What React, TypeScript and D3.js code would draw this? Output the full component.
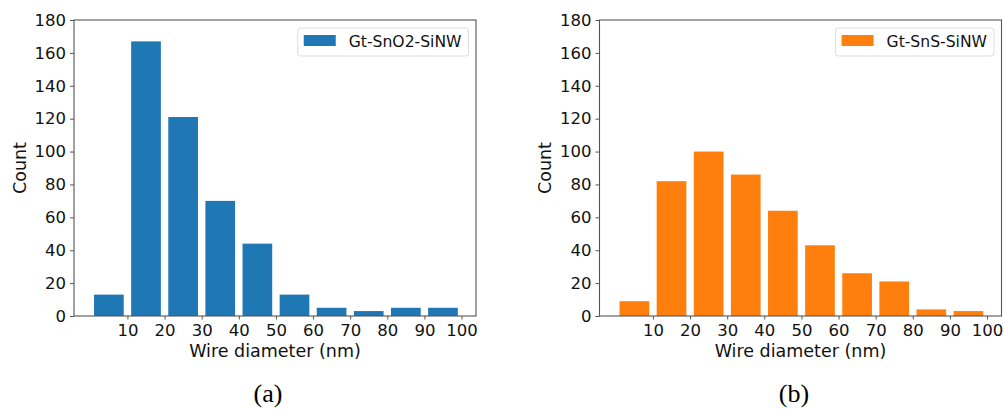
import React, { useEffect, useRef } from 'react';
import * as d3 from 'd3';

// bin centres (nm) and counts
const binCenters = [5, 15, 25, 35, 45, 55, 65, 75, 85, 95];
const snO2Counts = [13, 167, 121, 70, 44, 13, 5, 3, 5, 5];
const snSCounts = [9, 82, 100, 86, 64, 43, 26, 21, 4, 3];
const xTicks = [10, 20, 30, 40, 50, 60, 70, 80, 90, 100];
const yTicks = [0, 20, 40, 60, 80, 100, 120, 140, 160, 180];

const panels = [
  { label: 'Gt-SnO2-SiNW', values: snO2Counts, color: '#1f77b4', caption: '(a)', left: 74, captionX: 268 },
  { label: 'Gt-SnS-SiNW', values: snSCounts, color: '#ff7f0e', caption: '(b)', left: 599.5, captionX: 794 },
];

const FONT = 'DejaVu Sans, sans-serif';

function App() {
  const svgRef = useRef<SVGSVGElement>(null);

  useEffect(() => {
    const svg = d3.select(svgRef.current);
    svg.selectAll('*').remove();

    const top = 20;
    const bottom = 316;
    const width = 402;

    panels.forEach(p => {
      const x = d3.scaleLinear().domain([-4.4, 103.9]).range([p.left, p.left + width]);
      const y = d3.scaleLinear().domain([0, 180]).range([bottom, top]);
      const g = svg.append('g');

      // bars
      g.selectAll('rect.bar')
        .data(p.values)
        .enter()
        .append('rect')
        .attr('class', 'bar')
        .attr('x', (d, i) => x(binCenters[i] - 4))
        .attr('width', (d, i) => x(binCenters[i] + 4) - x(binCenters[i] - 4))
        .attr('y', d => y(d))
        .attr('height', d => y(0) - y(d))
        .attr('fill', p.color);

      // frame
      g.append('rect')
        .attr('x', p.left)
        .attr('y', top)
        .attr('width', width)
        .attr('height', bottom - top)
        .attr('fill', 'none')
        .attr('stroke', '#555')
        .attr('stroke-width', 1.1);

      // y axis
      const yAxis = g.append('g')
        .attr('transform', `translate(${p.left},0)`)
        .call(d3.axisLeft(y).tickValues(yTicks).tickSize(4).tickPadding(4));
      yAxis.select('.domain').remove();
      yAxis.selectAll('line').attr('stroke', '#555');
      yAxis.selectAll('text')
        .attr('fill', '#111')
        .style('font-family', FONT)
        .style('font-size', '16.5px');

      // x axis
      const xAxis = g.append('g')
        .attr('transform', `translate(0,${bottom})`)
        .call(d3.axisBottom(x).tickValues(xTicks).tickSize(3.5).tickPadding(5));
      xAxis.select('.domain').remove();
      xAxis.selectAll('line').attr('stroke', '#555');
      xAxis.selectAll('text')
        .attr('fill', '#111')
        .style('font-family', FONT)
        .style('font-size', '16.5px');

      // axis labels
      g.append('text')
        .attr('x', p.left + width / 2)
        .attr('y', 357)
        .attr('text-anchor', 'middle')
        .attr('fill', '#111')
        .style('font-family', FONT)
        .style('font-size', '17.5px')
        .text('Wire diameter (nm)');

      g.append('text')
        .attr('transform', `translate(${p.left - 48.5},${(top + bottom) / 2}) rotate(-90)`)
        .attr('text-anchor', 'middle')
        .attr('fill', '#111')
        .style('font-family', FONT)
        .style('font-size', '17.5px')
        .text('Count');

      // legend
      const leg = g.append('g');
      const box = leg.append('rect')
        .attr('y', 28)
        .attr('height', 28)
        .attr('rx', 3)
        .attr('fill', '#fff')
        .attr('fill-opacity', 0.8)
        .attr('stroke', '#ddd');
      const swatch = leg.append('rect')
        .attr('y', 35)
        .attr('width', 32)
        .attr('height', 11)
        .attr('fill', p.color);
      const txt = leg.append('text')
        .attr('y', 47)
        .attr('fill', '#111')
        .style('font-family', FONT)
        .style('font-size', '15.6px')
        .text(p.label);
      const tw = (txt.node() as SVGTextElement).getComputedTextLength();
      const boxW = 6 + 32 + 13 + tw + 7;
      const boxX = p.left + width - 7.5 - boxW;
      box.attr('x', boxX).attr('width', boxW);
      swatch.attr('x', boxX + 6);
      txt.attr('x', boxX + 51);

      // caption
      svg.append('text')
        .attr('x', p.captionX)
        .attr('y', 402)
        .attr('text-anchor', 'middle')
        .attr('fill', '#000')
        .style('font-family', '"Liberation Serif", "Times New Roman", serif')
        .style('font-size', '26px')
        .text(p.caption);
    });
  }, []);

  return (
    <svg
      ref={svgRef}
      width={1004}
      height={409}
      style={{ position: 'absolute', left: 0, top: 0, background: '#fff', display: 'block' }}
    />
  );
}

export default App;
